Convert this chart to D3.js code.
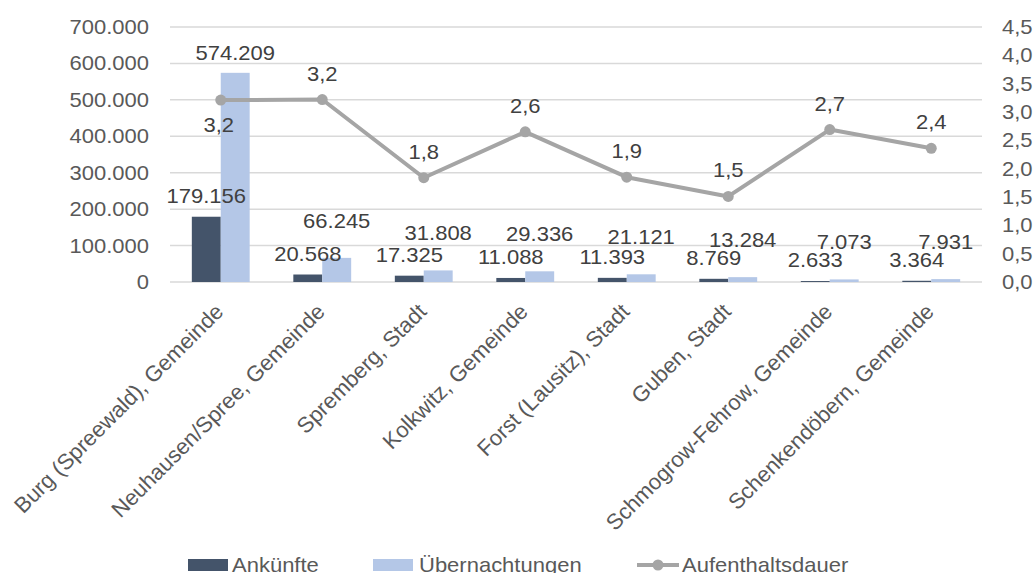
<!DOCTYPE html>
<html>
<head>
<meta charset="utf-8">
<script src="https://cdn.jsdelivr.net/npm/d3@7/dist/d3.min.js"></script>
<style>
  html, body { margin: 0; padding: 0; background: #fff; }
  svg { display: block; font-family: "Liberation Sans", Arial, sans-serif; }
</style>
</head>
<body>
<svg id="chart" width="1033" height="573"></svg>
<script>
// Gemeinden
const categories = [
  "Burg (Spreewald), Gemeinde",
  "Neuhausen/Spree, Gemeinde",
  "Spremberg, Stadt",
  "Kolkwitz, Gemeinde",
  "Forst (Lausitz), Stadt",
  "Guben, Stadt",
  "Schmogrow-Fehrow, Gemeinde",
  "Schenkendöbern, Gemeinde"
];
const ankuenfte = [179156, 20568, 17325, 11088, 11393, 8769, 2633, 3364];
const uebernachtungen = [574209, 66245, 31808, 29336, 21121, 13284, 7073, 7931];
// durchschnittliche Aufenthaltsdauer in Tagen
const aufenthaltsdauer = [3.21, 3.22, 1.84, 2.65, 1.85, 1.51, 2.69, 2.36];

const leftTicks = [0, 100000, 200000, 300000, 400000, 500000, 600000, 700000];
const rightTicks = [0, 0.5, 1, 1.5, 2, 2.5, 3, 3.5, 4, 4.5];
const seriesNames = ["Ankünfte", "Übernachtungen", "Aufenthaltsdauer"];

const colDark = "#44546a", colLight = "#b4c7e7", colLine = "#a5a5a5";
const txtAxis = "#595959", txtLabel = "#404040", gridCol = "#d9d9d9";
const SX = 1.1;   // horizontal stretch of the lettering

const svg = d3.select("#chart");
const plot = { left: 170, right: 982, top: 27, bottom: 282 };

const fmtThousands = d3.formatLocale({ decimal: ",", thousands: ".", grouping: [3], currency: ["", "€"] });
const fmtInt = fmtThousands.format(",d");
const fmtOne = fmtThousands.format(".1f");

const x0 = d3.scaleBand().domain(categories).range([plot.left, plot.right])
  .paddingInner(0.43).paddingOuter(0.215);
const x1 = d3.scaleBand().domain(["a", "u"]).range([0, x0.bandwidth()]);
const yL = d3.scaleLinear().domain([0, 700000]).range([plot.bottom, plot.top]);
const yR = d3.scaleLinear().domain([0, 4.5]).range([plot.bottom, plot.top]);

function txt(g, x, y, s, anchor, fill) {
  return g.append("text")
    .attr("transform", `translate(${x},${y}) scale(${SX},1)`)
    .attr("text-anchor", anchor)
    .attr("fill", fill)
    .attr("font-size", 20)
    .text(s);
}

// gridlines
svg.append("g").selectAll("line").data(leftTicks).join("line")
  .attr("x1", plot.left).attr("x2", plot.right)
  .attr("y1", d => yL(d)).attr("y2", d => yL(d))
  .attr("stroke", gridCol).attr("stroke-width", 1.5);

// left axis labels
const gAxL = svg.append("g");
leftTicks.forEach(t => txt(gAxL, 149, yL(t) + 7, fmtInt(t), "end", txtAxis));
// right axis labels
const gAxR = svg.append("g");
rightTicks.forEach(t => txt(gAxR, 1002, yR(t) + 7, fmtOne(t), "start", txtAxis));

// bars
const gBars = svg.append("g");
categories.forEach((c, i) => {
  gBars.append("rect")
    .attr("x", x0(c) + x1("a")).attr("width", x1.bandwidth())
    .attr("y", yL(ankuenfte[i])).attr("height", plot.bottom - yL(ankuenfte[i]))
    .attr("fill", colDark);
  gBars.append("rect")
    .attr("x", x0(c) + x1("u")).attr("width", x1.bandwidth())
    .attr("y", yL(uebernachtungen[i])).attr("height", plot.bottom - yL(uebernachtungen[i]))
    .attr("fill", colLight);
});

// line
const cx = c => x0(c) + x0.bandwidth() / 2;
const line = d3.line().x((d, i) => cx(categories[i])).y(d => yR(d));
svg.append("path").datum(aufenthaltsdauer)
  .attr("d", line).attr("fill", "none")
  .attr("stroke", colLine).attr("stroke-width", 4).attr("stroke-linejoin", "round");
svg.append("g").selectAll("circle").data(aufenthaltsdauer).join("circle")
  .attr("cx", (d, i) => cx(categories[i])).attr("cy", d => yR(d))
  .attr("r", 5.5).attr("fill", colLine);

// data labels
const gLab = svg.append("g");
categories.forEach((c, i) => {
  const ya = yL(ankuenfte[i]);
  txt(gLab, x0(c) + x1("a") + x1.bandwidth() / 2, ya - 21 + 7, fmtInt(ankuenfte[i]), "middle", txtLabel);
  const yu = yL(uebernachtungen[i]);
  const lift = yu < 200 ? 20 : 37;
  txt(gLab, x0(c) + x1("u") + x1.bandwidth() / 2, yu - lift + 7, fmtInt(uebernachtungen[i]), "middle", txtLabel);
  const yp = yR(aufenthaltsdauer[i]);
  const off = i === 0 ? 25 : -26;
  txt(gLab, cx(c) - (i === 0 ? 2 : 0), yp + off + 7, fmtOne(aufenthaltsdauer[i]), "middle", txtLabel);
});

// category labels, slanted 45°
svg.append("g").selectAll("text").data(categories).join("text")
  .attr("transform", c => `translate(${cx(c) + 4},${313}) rotate(-45)`)
  .attr("text-anchor", "end")
  .attr("fill", txtAxis)
  .attr("font-size", 22)
  .text(c => c);

// legend
const gLeg = svg.append("g");
gLeg.append("rect").attr("x", 188).attr("y", 559).attr("width", 40).attr("height", 12).attr("fill", colDark);
txt(gLeg, 232, 572, seriesNames[0], "start", txtAxis);
gLeg.append("rect").attr("x", 373).attr("y", 559).attr("width", 40).attr("height", 12).attr("fill", colLight);
txt(gLeg, 419, 572, seriesNames[1], "start", txtAxis);
gLeg.append("line").attr("x1", 637).attr("x2", 679).attr("y1", 565).attr("y2", 565)
  .attr("stroke", colLine).attr("stroke-width", 4);
gLeg.append("circle").attr("cx", 658).attr("cy", 565).attr("r", 5.5).attr("fill", colLine);
txt(gLeg, 682, 572, seriesNames[2], "start", txtAxis);
</script>
</body>
</html>
